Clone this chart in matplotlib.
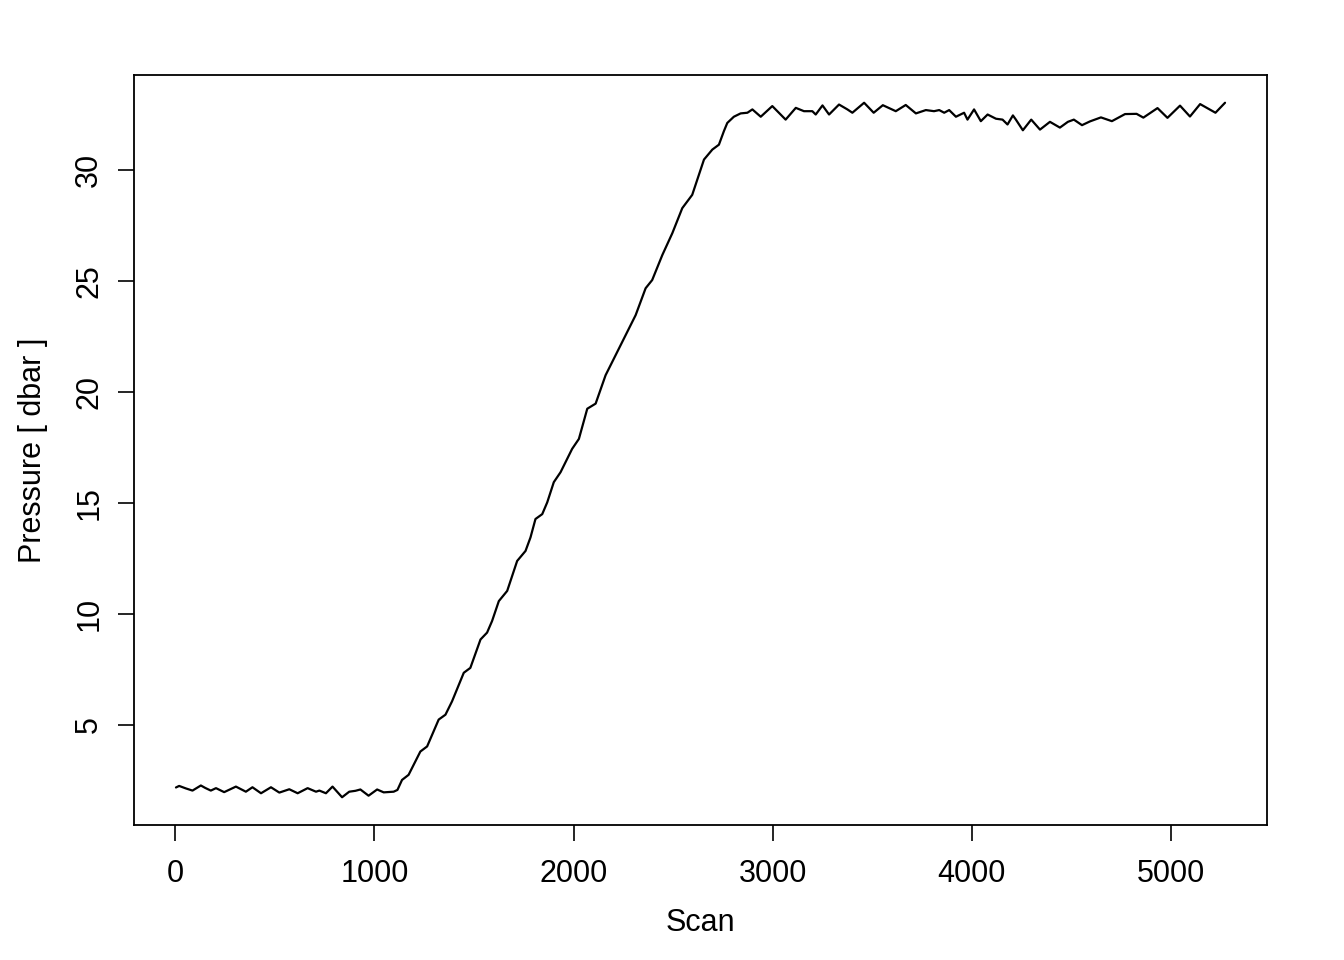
"""Pressure vs scan number for a CTD cast, drawn in the style of an R base plot."""

import matplotlib

matplotlib.use("Agg")
import matplotlib.pyplot as plt
import numpy as np

# values
scan = [
    4, 20, 53, 87, 129, 151, 179, 205, 246, 305, 355, 388, 431, 481, 523, 573,
    615, 665, 707, 724, 757, 790, 838, 874, 905, 930, 971, 1014, 1047, 1097,
    1116, 1139, 1172, 1231, 1265, 1323, 1357, 1390, 1449, 1482, 1533, 1566,
    1591, 1625, 1667, 1717, 1759, 1784, 1809, 1843, 1868, 1901, 1935, 1993,
    2027, 2069, 2111, 2161, 2211, 2270, 2312, 2362, 2395, 2446, 2496, 2546,
    2596, 2630, 2655, 2697, 2730, 2755, 2772, 2805, 2839, 2873, 2898, 2940,
    2998, 3065, 3116, 3157, 3199, 3216, 3250, 3283, 3333, 3375, 3400, 3459,
    3507, 3553, 3618, 3668, 3719, 3769, 3810, 3836, 3861, 3886, 3920, 3961,
    3978, 4011, 4045, 4079, 4121, 4154, 4179, 4206, 4221, 4256, 4298, 4342,
    4392, 4442, 4482, 4512, 4553, 4593, 4648, 4703, 4769, 4827, 4861, 4932,
    4982, 5045, 5095, 5146, 5223, 5271,
]
pressure = [
    2.17, 2.24, 2.13, 2.03, 2.26, 2.15, 2.03, 2.14, 1.96, 2.21, 1.98, 2.18,
    1.91, 2.18, 1.94, 2.09, 1.91, 2.14, 1.98, 2.03, 1.91, 2.21, 1.73, 1.98,
    2.02, 2.08, 1.80, 2.08, 1.95, 1.98, 2.06, 2.51, 2.74, 3.79, 4.02, 5.23,
    5.45, 6.05, 7.34, 7.56, 8.84, 9.15, 9.67, 10.57, 11.03, 12.38, 12.83,
    13.44, 14.27, 14.49, 15.02, 15.93, 16.38, 17.43, 17.88, 19.24, 19.47,
    20.75, 21.65, 22.71, 23.46, 24.67, 25.04, 26.17, 27.15, 28.28, 28.88,
    29.79, 30.47, 30.92, 31.14, 31.75, 32.12, 32.40, 32.55, 32.58, 32.73,
    32.40, 32.88, 32.27, 32.80, 32.65, 32.65, 32.50, 32.91, 32.50, 32.95,
    32.73, 32.58, 33.03, 32.58, 32.92, 32.65, 32.93, 32.55, 32.70, 32.65,
    32.70, 32.58, 32.70, 32.40, 32.58, 32.27, 32.73, 32.20, 32.50, 32.31,
    32.27, 32.05, 32.46, 32.27, 31.79, 32.27, 31.82, 32.17, 31.91, 32.17,
    32.27, 32.02, 32.19, 32.37, 32.20, 32.52, 32.53, 32.36, 32.79, 32.35,
    32.90, 32.41, 32.97, 32.58, 33.03,
]
x_ticks = [0, 1000, 2000, 3000, 4000, 5000]
y_ticks = [5, 10, 15, 20, 25, 30]

plt.rcParams["font.family"] = ["Liberation Sans", "DejaVu Sans"]

fig = plt.figure(figsize=(13.44, 9.6), dpi=100)
ax = fig.add_axes([0.0997, 0.1406, 0.843, 0.7813])

ax.plot(scan, pressure, color="black", linewidth=1.6,
        solid_joinstyle="round", solid_capstyle="round")


def r_limits(values):
    lo, hi = np.min(values), np.max(values)
    pad = 0.04 * (hi - lo)
    return lo - pad, hi + pad


ax.set_xlim(*r_limits(scan))
ax.set_ylim(*r_limits(pressure))

ax.set_xticks(x_ticks)
ax.set_yticks(y_ticks)
ax.set_yticklabels([str(v) for v in y_ticks], rotation=90, va="center")
ax.tick_params(axis="both", direction="out", length=11.5, width=1.2,
               labelsize=22, color="black")
ax.tick_params(axis="x", pad=13)
ax.tick_params(axis="y", pad=10)
for spine in ax.spines.values():
    spine.set_linewidth(1.3)

ax.set_xlabel("Scan", fontsize=22, labelpad=14)
ax.set_ylabel("Pressure [ dbar ]", fontsize=22, labelpad=19)

fig.savefig("out.png", dpi=100)
